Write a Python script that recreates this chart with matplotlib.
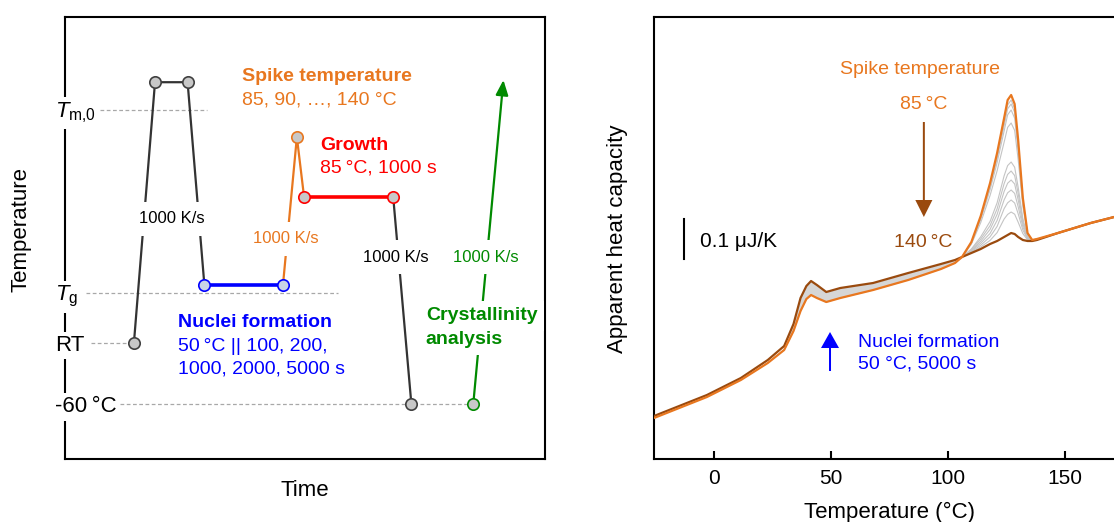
import numpy as np
import matplotlib
matplotlib.use('Agg')
import matplotlib.pyplot as plt
import matplotlib.transforms as mtransforms

plt.rcParams['font.family'] = ['Liberation Sans', 'DejaVu Sans']
plt.rcParams['mathtext.fontset'] = 'custom'
plt.rcParams['mathtext.rm'] = 'Liberation Sans'
plt.rcParams['mathtext.it'] = 'Liberation Sans:italic'
plt.rcParams['mathtext.bf'] = 'Liberation Sans:bold'

# ---------------- left panel: temperature protocol (schematic units) ----------------
level_labels = ['$T_{\\mathrm{m{,}0}}$', '$T_{\\mathrm{g}}$', 'RT', '-60\u2009°C']
level_values = [79.0, 37.6, 26.3, 12.4]
guide_start = [7.2, 4.3, 5.3, 11.4]
guide_end = [29.5, 56.8, 14.3, 85.1]

melt_t = [14.3, 18.7, 25.5, 29.0]
melt_y = [26.3, 85.2, 85.2, 39.4]
nuclei_t = [29.0, 45.4]
nuclei_y = [39.4, 39.4]
spike_t = [45.4, 48.3, 49.8]
spike_y = [39.4, 72.8, 59.3]
growth_t = [49.8, 68.4]
growth_y = [59.3, 59.3]
quench_t = [68.4, 72.2]
quench_y = [59.3, 12.4]
heat_t = [85.1, 91.4]
heat_y = [12.4, 85.7]

# ---------------- right panel: apparent heat capacity curves (nJ/K, offset arbitrary) ----------------
T_full = [-25.6, -17, -3, 11.5, 23, 30, 34, 37, 39.5, 41.5, 44, 48, 54, 68, 83, 97, 103,
          106, 110, 114, 118, 121, 124, 125.5, 127, 128.5, 130, 132, 134, 136, 138,
          147, 161, 171, 175]
cp_spike85 = [102.5, 122.5, 155, 197.5, 240, 272.5, 320, 370, 400, 410, 402.5, 392.5, 402.5,
              422.5, 447.5, 475, 490, 505, 542.5, 607.5, 690, 765, 852.5, 897.5, 910, 887.5,
              797.5, 652.5, 565, 547.5, 550, 565, 590, 605, 610]
cp_spike140 = [107.5, 127.5, 160, 202.5, 247.5, 282.5, 337.5, 402.5, 432.5, 445, 435, 417.5,
               427.5, 440, 465, 487.5, 497.5, 505, 515, 525, 537.5, 545, 555, 560, 565, 562.5,
               555, 547.5, 545, 545, 547.5, 565, 590, 605, 610]

T_peak = [106, 110, 114, 118, 121, 124, 125.5, 127, 128.5, 130, 132, 134, 136, 138]
spike_temps_gray = [90, 95, 100, 105, 110, 115, 120, 125, 130, 135]
cp_gray = [
    [505, 541.5, 604.5, 684.5, 757, 842, 885, 897.5, 875.5, 789, 648.5, 564, 547.5, 550],
    [505, 540.5, 602, 680, 750.5, 833, 875.5, 887.5, 866.5, 781.5, 645.5, 563.5, 547.5, 550],
    [505, 539.5, 598.5, 673.5, 741, 820, 860.5, 872.5, 852, 771, 641, 563, 547, 549.5],
    [505, 537, 591, 659, 720.5, 792, 829, 840, 821.5, 748.5, 631, 561, 547, 549.5],
    [505, 525, 555.5, 594, 640.5, 708, 733.5, 742.5, 729.5, 679.5, 601.5, 555.5, 546, 548.5],
    [505, 523.5, 550, 583.5, 625.5, 688.5, 711.5, 720, 708.5, 664, 594.5, 554, 546, 548.5],
    [505, 521.5, 544.5, 574, 611.5, 669, 689.5, 697.5, 687.5, 648, 588, 552.5, 546, 548],
    [505, 520, 539.5, 564, 596.5, 648, 665.5, 672.5, 664, 630.5, 580.5, 551, 546, 548],
    [505, 518, 534.5, 555.5, 581.5, 626, 640.5, 647.5, 640, 613, 572.5, 550, 545.5, 548],
    [505, 516.5, 530, 546.5, 566, 600, 611.5, 617.5, 612, 592, 563.5, 548, 545.5, 548],
]
xtick_values = [0, 50, 100, 150]

ORANGE = '#E8771F'
BROWN = '#9A4A0E'
BLUE = '#0000FF'
RED = '#FF0000'
GREEN = '#008A00'
DARK = '#333333'
GRAYFILL = '#c8c8c8'

fig = plt.figure(figsize=(11.14, 5.22), dpi=100)

# ======================= LEFT PANEL =======================
axL = fig.add_axes([0.0587, 0.1201, 0.4302, 0.8479])
axL.set_xlim(0, 100)
axL.set_ylim(0, 100)
axL.set_xticks([])
axL.set_yticks([])
for s in axL.spines.values():
    s.set_linewidth(1.5)
    s.set_color('black')

for lvl, a, b in zip(level_values, guide_start, guide_end):
    axL.plot([a, b], [lvl, lvl], ls=(0, (3, 2)), color='#a8a8a8', lw=0.9, zorder=1)

blend = mtransforms.blended_transform_factory(axL.transAxes, axL.transData)
for lab, lvl in zip(level_labels, level_values):
    axL.text(-0.0217, lvl - 1.8, lab, transform=blend, ha='left', va='baseline',
             fontsize=16, zorder=6, clip_on=False,
             bbox=dict(boxstyle='square,pad=0.15', fc='white', ec='none'))

lw_thin = 1.6
lw_thick = 2.6
axL.plot(melt_t, melt_y, color=DARK, lw=lw_thin, zorder=3, solid_capstyle='round')
axL.plot(nuclei_t, nuclei_y, color=BLUE, lw=lw_thick, zorder=3)
axL.plot(spike_t, spike_y, color=ORANGE, lw=lw_thin, zorder=3)
axL.plot(growth_t, growth_y, color=RED, lw=lw_thick, zorder=3)
axL.plot(quench_t, quench_y, color=DARK, lw=lw_thin, zorder=3)
axL.annotate('', xy=(heat_t[1], heat_y[1]), xytext=(heat_t[0], heat_y[0]),
             arrowprops=dict(arrowstyle='-|>,head_length=0.6,head_width=0.25', color=GREEN,
                             lw=lw_thin, shrinkA=0, shrinkB=0, mutation_scale=15), zorder=3)

ms = 8.2
mew = 1.2
def mark(t, y, edge, face=GRAYFILL):
    axL.plot(t, y, 'o', ms=ms, mfc=face, mec=edge, mew=mew, zorder=5)

mark([melt_t[0], melt_t[1], melt_t[2]], [melt_y[0], melt_y[1], melt_y[2]], '#404040')
mark(nuclei_t, nuclei_y, BLUE, '#c9d3e6')
mark([spike_t[1]], [spike_y[1]], ORANGE)
mark(growth_t, growth_y, RED)
mark([quench_t[1]], [quench_y[1]], '#404040')
mark([heat_t[0]], [heat_y[0]], GREEN)

# annotations
axL.text(36.9, 86.4, 'Spike temperature', color=ORANGE, fontsize=14, fontweight='bold',
         ha='left', va='center', zorder=6)
axL.text(36.9, 81.2, '85, 90, …, 140 °C', color=ORANGE, fontsize=14, ha='left', va='center', zorder=6)
axL.text(53.1, 71.0, 'Growth', color=RED, fontsize=14, fontweight='bold', ha='left', va='center', zorder=6)
axL.text(53.1, 65.8, '85\u2009°C, 1000 s', color=RED, fontsize=14, ha='left', va='center', zorder=6)
axL.text(23.4, 30.8, 'Nuclei formation', color=BLUE, fontsize=14, fontweight='bold',
         ha='left', va='center', zorder=6)
axL.text(23.4, 25.6, '50\u2009°C || 100, 200,', color=BLUE, fontsize=14, ha='left', va='center', zorder=6)
axL.text(23.4, 20.4, '1000, 2000, 5000 s', color=BLUE, fontsize=14, ha='left', va='center', zorder=6)
for txt, yy in [('Crystallinity', 32.4), ('analysis', 27.0)]:
    axL.text(75.2, yy, txt, color=GREEN, fontsize=14, fontweight='bold', ha='left', va='center',
             zorder=6, bbox=dict(boxstyle='square,pad=0.35', fc='white', ec='none'))

rate_box = dict(boxstyle='square,pad=0.55', fc='white', ec='none')
for (tx, ty, col) in [(22.3, 54.3, 'black'), (46.0, 49.8, ORANGE), (69.0, 45.7, 'black'), (87.8, 45.7, GREEN)]:
    axL.text(tx, ty, '1000 K/s', color=col, fontsize=12, ha='center', va='center', zorder=6,
             bbox=rate_box)

fig.text(21.4 / 1114, 1 - 230 / 522, 'Temperature', rotation=90, fontsize=16, ha='center', va='center')
fig.text(305 / 1114, 1 - 490 / 522, 'Time', fontsize=16, ha='center', va='center')

# ======================= RIGHT PANEL =======================
axR = fig.add_axes([0.5871, 0.1201, 0.4901, 0.8479])
axR.set_xlim(-25.6, 207.7)
axR.set_ylim(-0.75, 1105.75)
axR.set_yticks([])
axR.set_xticks(xtick_values)
axR.tick_params(axis='x', direction='in', length=6, width=1.5, labelsize=15, pad=7)
for s in axR.spines.values():
    s.set_linewidth(1.5)
    s.set_color('black')
axR.spines['right'].set_visible(False)

T_arr = np.array(T_full)
o_arr = np.array(cp_spike85)
b_arr = np.array(cp_spike140)
band = (T_arr >= 28) & (T_arr <= 106)
axR.fill_between(T_arr, o_arr, b_arr, where=band, color='#d6d6d6', lw=0, zorder=1)

for cp in cp_gray:
    axR.plot(T_peak, cp, color='#c4c4c4', lw=0.8, zorder=2)
axR.plot(T_full, cp_spike140, color=BROWN, lw=1.6, zorder=3)
axR.plot(T_full, cp_spike85, color=ORANGE, lw=1.6, zorder=4)

# scale bar 0.1 uJ/K = 100 nJ/K
axR.plot([-12.8, -12.8], [500, 600], color='black', lw=1.5)
axR.text(-6.0, 545, '0.1 μJ/K', fontsize=15, ha='left', va='center')

axR.text(88.0, 975, 'Spike temperature', color=ORANGE, fontsize=14, ha='center', va='center')
axR.text(89.7, 887.5, '85\u2009°C', color=ORANGE, fontsize=14, ha='center', va='center')
axR.arrow(89.7, 842.5, 0, -237.5, width=0.85, head_width=7.3, head_length=42.5,
          length_includes_head=True, color=BROWN, lw=0)
axR.text(89.3, 542.5, '140\u2009°C', color=BROWN, fontsize=14, ha='center', va='center')

axR.arrow(49.6, 220, 0, 97.5, width=0.85, head_width=7.7, head_length=40,
          length_includes_head=True, color=BLUE, lw=0)
axR.text(61.5, 292.5, 'Nuclei formation', color=BLUE, fontsize=14, ha='left', va='center')
axR.text(61.5, 237.5, '50 °C, 5000 s', color=BLUE, fontsize=14, ha='left', va='center')

fig.text(618 / 1114, 1 - 239 / 522, 'Apparent heat capacity', rotation=90, fontsize=16,
         ha='center', va='center')
fig.text(890 / 1114, 1 - 512 / 522, 'Temperature (°C)', fontsize=16, ha='center', va='center')

fig.savefig('out.png', dpi=100)
